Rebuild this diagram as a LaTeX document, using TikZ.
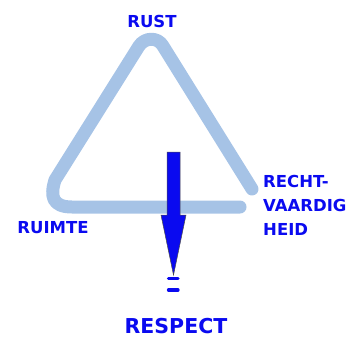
\documentclass[tikz,border=0pt]{standalone}
\usepackage{fontspec}
\setmainfont{DejaVu Sans}
\usepackage{tikz}

\definecolor{paleblue}{RGB}{166,195,230}
\definecolor{inkblue}{RGB}{10,10,240}

\begin{document}
\begin{tikzpicture}[x=1pt,y=-1pt,
  lbl/.style={text=inkblue,inner sep=0pt,font=\bfseries\fontsize{16.5}{24}\selectfont},
  biglbl/.style={lbl,font=\bfseries\fontsize{20.5}{24}\selectfont},
  band/.style={draw=paleblue,line width=13pt,line cap=round,line join=round},
  bar/.style={draw=inkblue,line width=3.3pt,line cap=round}]
\useasboundingbox (0,0) rectangle (352,337);
% the triangle
\draw[band] (240,207) -- (72,207) .. controls (52,207) and (50,196) .. (55,180)
  -- (139,46) .. controls (145,37) and (158,37) .. (163,46) -- (252,189);
% labels
\node[lbl] (rust) at (152,21) {RUST};
\node[lbl] (ruimte) at (53,228) {RUIMTE};
\node[lbl,anchor=west,align=left] (recht) at (263,205) {RECHT-\\VAARDIG\\HEID};
\node[biglbl] (respect) at (176,326) {RESPECT};
% the arrow down
\coordinate (top) at (173.5,152);
\coordinate (tip) at (173.5,275);
\filldraw[fill=inkblue,draw=black!70,line width=0.5pt]
  ([xshift=-6.5pt]top) -- ([xshift=6.5pt]top) -- (180,215) -- (186,215)
  -- (tip) -- (161,215) -- (167,215) -- cycle;
% equals
\draw[bar] (168.5,278.5) -- (178,278.5);
\draw[bar] (168.5,290) -- (178,290);
\end{tikzpicture}
\end{document}
